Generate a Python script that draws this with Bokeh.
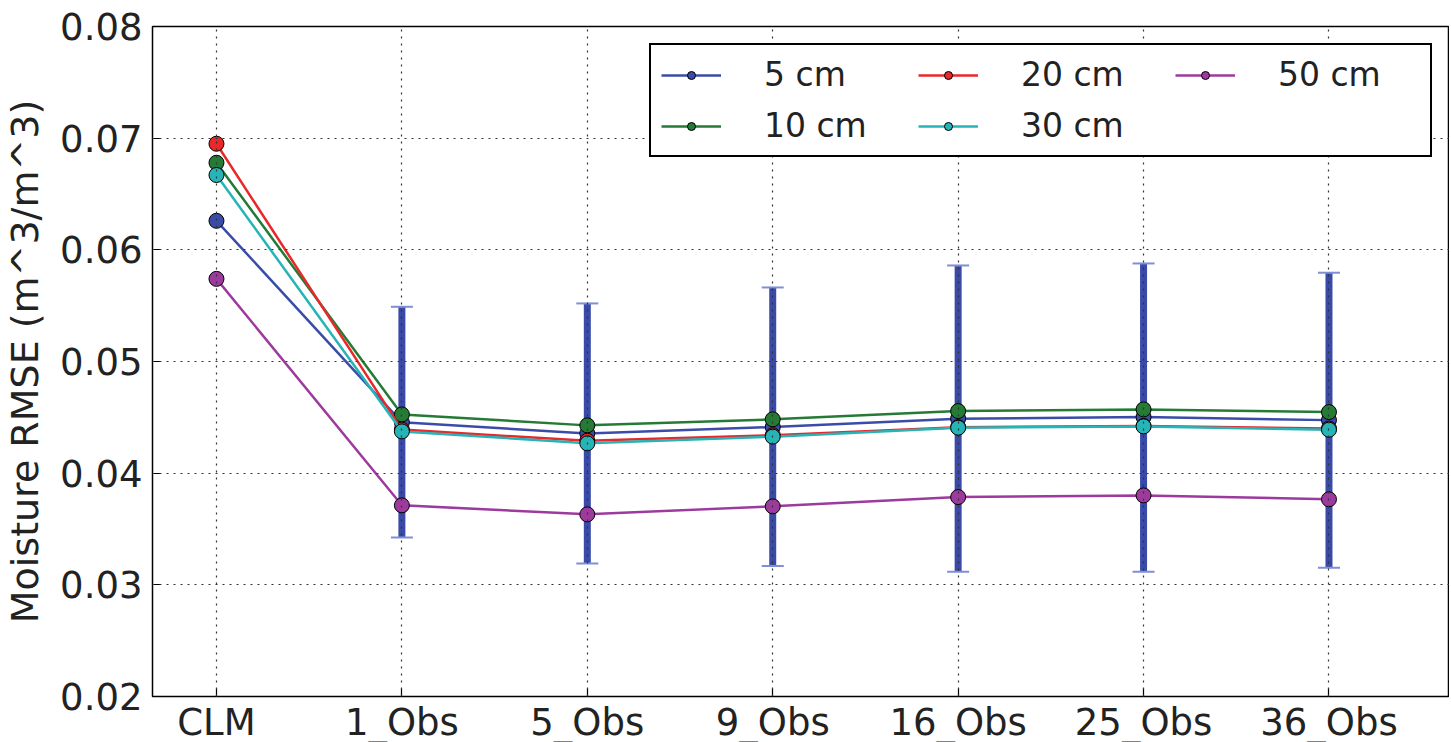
from bokeh.plotting import figure
from bokeh.models import (ColumnDataSource, Whisker, TeeHead, FixedTicker,
                          Legend, LegendItem, Range1d, NumeralTickFormatter)
from bokeh.embed import file_html
from bokeh.resources import INLINE

# ---- data ----
categories = ["CLM", "1_Obs", "5_Obs", "9_Obs", "16_Obs", "25_Obs", "36_Obs"]
depths = ["5 cm", "10 cm", "20 cm", "30 cm", "50 cm"]
rmse_5cm  = [0.0626, 0.04455, 0.04356, 0.04413, 0.04488, 0.04502, 0.04475]
rmse_10cm = [0.0678, 0.04526, 0.04428, 0.04482, 0.04556, 0.04571, 0.04547]
rmse_20cm = [0.0695, 0.04390, 0.04290, 0.04340, 0.04412, 0.04422, 0.04400]
rmse_30cm = [0.0667, 0.04374, 0.04267, 0.04327, 0.04407, 0.04419, 0.04389]
rmse_50cm = [0.0574, 0.03712, 0.03631, 0.03703, 0.03786, 0.03801, 0.03766]
err_categories = ["1_Obs", "5_Obs", "9_Obs", "16_Obs", "25_Obs", "36_Obs"]
err_lower = [0.03425, 0.03192, 0.03168, 0.03118, 0.03118, 0.03154]
err_upper = [0.05490, 0.05520, 0.05663, 0.05860, 0.05878, 0.05795]
y_ticks = [0.02, 0.03, 0.04, 0.05, 0.06, 0.07, 0.08]

colors = ["#3a4ca8", "#257a35", "#e8292b", "#27b4b6", "#9c3a9e"]
series = [rmse_5cm, rmse_10cm, rmse_20cm, rmse_30cm, rmse_50cm]

FONT = "DejaVu Sans"
TXT = "#222222"

x_idx = list(range(len(categories)))

p = figure(frame_width=1297, frame_height=670,
           x_range=Range1d(-0.345, 6.65), y_range=Range1d(0.02, 0.08),
           output_backend="svg", toolbar_location=None,
           min_border_left=142, min_border_top=26, min_border_right=0, min_border_bottom=0)
p.background_fill_color = "white"
p.border_fill_color = "white"
p.outline_line_color = "black"
p.outline_line_width = 1.5

p.xaxis.ticker = FixedTicker(ticks=x_idx)
p.xaxis.major_label_overrides = {i: c for i, c in zip(x_idx, categories)}
p.yaxis.ticker = FixedTicker(ticks=y_ticks)
p.yaxis.formatter = NumeralTickFormatter(format="0.00")

for ax in p.axis:
    ax.axis_line_color = None
    ax.major_tick_in = 8
    ax.major_tick_out = 0
    ax.major_tick_line_color = "black"
    ax.major_tick_line_width = 1.2
    ax.minor_tick_line_color = None
    ax.major_label_text_font = FONT
    ax.major_label_text_color = TXT
    ax.major_label_text_font_size = "37px"

p.xaxis.major_label_standoff = 4
p.yaxis.major_label_standoff = 10
p.yaxis.axis_label = "Moisture RMSE (m^3/m^3)"
p.yaxis.axis_label_text_font = FONT
p.yaxis.axis_label_text_font_style = "normal"
p.yaxis.axis_label_text_font_size = "38px"
p.yaxis.axis_label_text_color = TXT
p.yaxis.axis_label_standoff = 10

p.grid.grid_line_color = "#333333"
p.grid.grid_line_dash = "2 5"
p.grid.grid_line_width = 1.2
p.grid.level = "guide"

# error bars
err_x = [categories.index(c) for c in err_categories]
esrc = ColumnDataSource(data=dict(x=err_x, lo=err_lower, hi=err_upper))
whisk = Whisker(base="x", lower="lo", upper="hi", source=esrc,
                line_color="#3a4aa8", line_width=7,
                upper_head=TeeHead(size=22, line_color="#7f8fd6", line_width=2),
                lower_head=TeeHead(size=22, line_color="#7f8fd6", line_width=2))
whisk.level = "underlay"
p.add_layout(whisk)

items = []
for name, vals, col in zip(depths, series, colors):
    src = ColumnDataSource(data=dict(x=x_idx, y=vals))
    ln = p.line("x", "y", source=src, line_color=col, line_width=2.5)
    sc = p.scatter("x", "y", source=src, size=15, fill_color=col,
                   line_color="black", line_width=1)
    items.append(LegendItem(label=name, renderers=[ln, sc]))

legend = Legend(items=items, location="top_right", nrows=2, orientation="vertical")
legend.margin = 17
legend.padding = 10
legend.spacing = 12
legend.glyph_width = 60
legend.label_standoff = 43
legend.label_width = 142
legend.label_text_font = FONT
legend.label_text_font_size = "33px"
legend.label_text_color = TXT
legend.border_line_color = "black"
legend.border_line_width = 2
legend.border_line_alpha = 1.0
legend.background_fill_color = "white"
legend.background_fill_alpha = 1.0
p.add_layout(legend)

open("out.html", "w").write(file_html(p, INLINE))
